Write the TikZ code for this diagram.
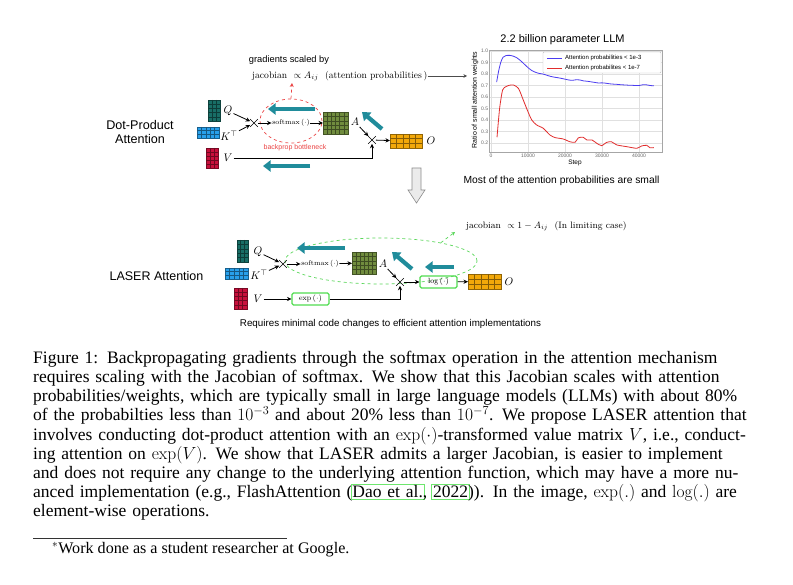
\RequirePackage{fix-cm}
\documentclass[tikz,border=0pt]{standalone}
\usepackage{fontspec}
\newfontfamily\capfont{Liberation Serif}
\newfontfamily\helv{Liberation Sans}
\usetikzlibrary{arrows.meta,shapes.misc,shapes.geometric,calc}

\definecolor{qcol}{RGB}{24,110,102}
\definecolor{kcol}{RGB}{40,160,235}
\definecolor{acol}{RGB}{112,140,62}
\definecolor{vcol}{RGB}{200,16,60}
\definecolor{ocol}{RGB}{242,168,10}
\definecolor{tealarr}{RGB}{32,140,155}
\definecolor{redd}{RGB}{235,70,70}
\definecolor{greend}{RGB}{90,215,90}
\definecolor{boxg}{RGB}{80,220,80}
\definecolor{plotblue}{RGB}{75,60,240}
\definecolor{plotred}{RGB}{225,45,45}
\definecolor{citeg}{RGB}{110,230,110}

\newcommand\fsz[1]{\fontsize{#1}{#1}\selectfont}
\newcommand\matgrid[4]{%
  \pgfmathtruncatemacro\mgc{#2-1}%
  \pgfmathtruncatemacro\mgr{#3-1}%
  \foreach \i in {1,...,\mgc}{\draw[#4!55!black, line width=0.35pt] ($(#1.north west)!\i/#2!(#1.north east)$) -- ($(#1.south west)!\i/#2!(#1.south east)$);}%
  \foreach \j in {1,...,\mgr}{\draw[#4!55!black, line width=0.35pt] ($(#1.north west)!\j/#3!(#1.south west)$) -- ($(#1.north east)!\j/#3!(#1.south east)$);}%
}
\newcommand\cbox[1]{\leavevmode\rlap{\hskip-1.7pt\textcolor{citeg}{\fboxsep=1pt\fboxrule=0.7pt\fbox{\phantom{#1}}}}#1}

\tikzset{
  mat/.style={draw=#1!60!black, fill=#1, line width=0.4pt, inner sep=0pt, outer sep=0pt},
  lbl/.style={inner sep=1pt, font=\fsz{11}},
  crs/.style={cross out, draw, line width=0.6pt, minimum size=7pt, inner sep=0pt},
  blk/.style={-{Stealth[length=4.5pt,width=4.2pt]}, line width=0.8pt},
  tarr/.style={draw=tealarr, line width=4.2pt, -{Triangle[length=7.5pt,width=11pt]}},
  gbox/.style={draw=boxg, line width=1.1pt, rounded corners=1.5pt, minimum width=37pt, minimum height=12pt, inner sep=0pt, font=\fsz{7.5}},
  sml/.style={inner sep=0.5pt, font=\fsz{7}},
  tick/.style={font=\helv\fsz{5}, text=black!60, inner sep=1pt},
  sans/.style={inner sep=0pt, font=\helv\fsz{#1}},
}

\begin{document}
\begin{tikzpicture}[x=1pt,y=-1pt]
\useasboundingbox (0,0) rectangle (793,585);
\fill[white] (0,0) rectangle (793,585);

% ================= upper: dot-product attention =================
\node[ellipse, draw=redd, dashed, line width=0.7pt, minimum width=62pt, minimum height=44pt, inner sep=0pt] (ell1) at (291,121) {};
\coordinate (redtip) at (292,83);
\draw[redd, dashed, line width=0.7pt, -{Stealth[length=4pt,width=4pt]}] (ell1.north) -- (redtip);

\node[sans=9.3] (grad) at (289,60) {gradients scaled by};
\node[inner sep=0pt, anchor=west, font=\fsz{9.6}] (jac1) at (252,76) {jacobian\ \ $\propto A_{ij}$\ \ (attention probabilities\,)};
\coordinate (plt) at (467,76);
\draw[black!70, line width=0.5pt, -{Stealth[length=3.5pt,width=3.5pt]}] (jac1.east) -- (plt);

\node[sans=7, text=redd] (bb) at (295,148) {backprop bottleneck};
\node[sans=12.6, align=center, font=\helv\fontsize{12.6}{14}\selectfont] (dpa) at (140,132) {Dot-Product\\Attention};

\node[mat=qcol, minimum width=12pt, minimum height=21pt] (Q1) at (214,110.5) {};
\node[mat=kcol, minimum width=22pt, minimum height=11pt] (K1) at (208,132.5) {};
\node[mat=vcol, minimum width=12pt, minimum height=20pt] (V1) at (212,158) {};
\node[mat=acol, minimum width=25pt, minimum height=22pt] (A1) at (335.5,123) {};
\node[mat=ocol, minimum width=32pt, minimum height=14pt] (O1) at (406,141) {};
\matgrid{Q1}{3}{5}{qcol}
\matgrid{K1}{5}{3}{kcol}
\matgrid{V1}{3}{5}{vcol}
\matgrid{A1}{6}{5}{acol}
\matgrid{O1}{5}{3}{ocol}

\node[lbl] (Ql1) at (228,111) {$Q$};
\node[lbl] (Kl1) at (229,136) {$K^{\top}$};
\node[lbl] (Vl1) at (228,158) {$V$};
\node[lbl] (Al1) at (355,122) {$A$};
\node[lbl] (Ol1) at (431,141) {$O$};

\node[crs] (c1) at (254,123) {};
\node[sml] (sm1) at (291,123) {$\mathrm{softmax}\,(\cdot)$};
\node[crs] (c2) at (372,140) {};

\draw[blk] (Ql1) -- (c1);
\draw[blk] (Kl1) -- (c1);
\draw[blk] (c1) -- (sm1);
\draw[blk] (sm1) -- (A1);
\draw[blk] (Al1) -- (c2);
\draw[blk] (c2) -- (O1);
\draw[blk] (Vl1) -| (c2);

\draw[tarr] (315,109) -- (268,109);
\draw[tarr] (310,166) -- (263,166);
\draw[tarr] (382,129) -- (362,112);

% hollow down arrow
\draw[black!45, fill=black!8, line width=0.6pt] (412,168) -- (421,168) -- (421,190) -- (425,190) -- (416.5,203) -- (408,190) -- (412,190) -- cycle;

% ================= chart =================
\node[sans=11] (ttl) at (562.5,40) {2.2 billion parameter LLM};
\begin{scope}[shift={(491.1,166)}, x=3.697pt, y=115pt]
  \foreach \v in {0.2,0.3,0.4,0.5,0.6,0.7,0.8,0.9,1.0}
    \draw[black!12, line width=0.5pt] (-0.5,\v) -- (46.4,\v);
  \foreach \s in {0,10,20,30,40}
    \draw[black!12, line width=0.5pt] (\s,0.119) -- (\s,1.009);
  \draw[black!35, line width=0.5pt] (-0.5,0.119) rectangle (46.4,1.009);
  \foreach \v in {1.0,0.9,0.8,0.7,0.6,0.5,0.4,0.3,0.2}
    \node[tick, anchor=east] at (-0.5,\v) {\v};
  \foreach \s/\t in {0/0,10/10000,20/20000,30/30000,40/40000}
    \node[tick, anchor=north] at (\s,0.119) {\t};
  \draw[plotblue, line width=0.8pt, line join=round] plot[smooth, tension=0.4] coordinates {
    (1.5,0.73) (2,0.82) (2.6,0.9) (3.2,0.945) (4,0.96) (5,0.962) (6,0.955) (7,0.94) (8,0.915) (9,0.885) (10,0.855) (11,0.83) (12,0.815) (13,0.805) (14,0.8) (15,0.79) (16,0.78) (17,0.773) (18,0.768) (19,0.762) (20,0.755) (21,0.748) (22,0.745) (23,0.75) (24,0.748) (25,0.74) (26,0.737) (27,0.732) (28,0.727) (29,0.722) (30,0.723) (31,0.72) (32,0.715) (33,0.712) (34,0.71) (35,0.707) (36,0.705) (37,0.703) (38,0.702) (39,0.7) (40,0.7) (41,0.706) (42,0.706) (43,0.7) (44,0.697)};
  \draw[plotred, line width=0.8pt, line join=round] plot[smooth, tension=0.4] coordinates {
    (1.6,0.25) (2.3,0.5) (3.1,0.66) (4.0,0.69) (4.7,0.70) (6,0.705) (7.4,0.675) (8.7,0.574) (10,0.47) (11,0.4) (12.3,0.357) (14.1,0.328) (15.9,0.27) (17.3,0.247) (19.5,0.235) (21.3,0.211) (22.7,0.206) (23.6,0.245) (24.9,0.25) (25.9,0.226) (27.3,0.226) (28.6,0.197) (29.9,0.177) (31.3,0.206) (32.6,0.21) (34,0.183) (36.7,0.168) (39.4,0.154) (40.7,0.174) (42.1,0.18) (43,0.158) (44,0.16)};
\end{scope}
\node[sans=7, rotate=90] (ylab) at (475,100) {Ratio of small attention weights};
\node[sans=6.5] (xlab) at (575,163) {Step};
\node[draw=black!25, fill=white, rounded corners=1pt, minimum width=118pt, minimum height=21pt, inner sep=0pt] (leg) at (602,62.5) {};
\coordinate (lb1) at (547,58); \coordinate (lb2) at (562,58);
\coordinate (lr1) at (547,68); \coordinate (lr2) at (562,68);
\draw[plotblue, line width=0.8pt] (lb1) -- (lb2);
\draw[plotred, line width=0.8pt] (lr1) -- (lr2);
\node[sans=6, anchor=west] (legb) at (565,58) {Attention probabilities < 1e-3};
\node[sans=6, anchor=west] (legr) at (565,68) {Attention probabilites < 1e-7};
\node[sans=10.3] (most) at (561.5,181) {Most of the attention probabilities are small};

% ================= lower: LASER attention =================
\node[ellipse, draw=greend, dashed, line width=0.7pt, minimum width=192pt, minimum height=46pt, inner sep=0pt] (ell2) at (381,261) {};
\node[inner sep=0pt, anchor=west, font=\fsz{9.3}] (jac2) at (466,226) {jacobian\ \ $\propto 1-A_{ij}$\ \ (In limiting case)};
\coordinate (jacend) at (455,232);
\draw[greend, dashed, line width=0.7pt, -{Stealth[length=3.5pt,width=3.5pt]}] (ell2.17) -- (jacend);

\node[sans=12.5] (laser) at (156.5,276) {LASER Attention};

\node[mat=qcol, minimum width=11pt, minimum height=22pt] (Q2) at (242.5,251) {};
\node[mat=kcol, minimum width=23pt, minimum height=11pt] (K2) at (236.5,273.5) {};
\node[mat=vcol, minimum width=13pt, minimum height=21pt] (V2) at (240.5,298.5) {};
\node[mat=acol, minimum width=24pt, minimum height=22pt] (A2) at (364,263) {};
\node[mat=ocol, minimum width=33pt, minimum height=15pt] (O2) at (484.5,281.5) {};
\matgrid{Q2}{3}{5}{qcol}
\matgrid{K2}{5}{3}{kcol}
\matgrid{V2}{3}{5}{vcol}
\matgrid{A2}{6}{5}{acol}
\matgrid{O2}{5}{3}{ocol}

\node[lbl] (Ql2) at (258,252) {$Q$};
\node[lbl] (Kl2) at (259,275) {$K^{\top}$};
\node[lbl] (Vl2) at (258,299) {$V$};
\node[lbl] (Al2) at (383,264) {$A$};
\node[lbl] (Ol2) at (509,282) {$O$};

\node[crs] (c3) at (283,264) {};
\node[sml] (sm2) at (320,264) {$\mathrm{softmax}\,(\cdot)$};
\node[crs] (c4) at (400,282) {};
\node[gbox] (logb) at (438.5,282) {$\log\,(\cdot)$};
\node[gbox] (expb) at (310.5,299) {$\exp\,(\cdot)$};

\draw[blk] (Ql2) -- (c3);
\draw[blk] (Kl2) -- (c3);
\draw[blk] (c3) -- (sm2);
\draw[blk] (sm2) -- (A2);
\draw[blk] (Al2) -- (c4);
\draw[blk] (c4) -- (logb);
\draw[blk] (logb) -- (O2);
\draw[blk] (Vl2) -- (expb);
\draw[blk] (expb) -| (c4);

\draw[tarr] (345,248) -- (297,248);
\draw[tarr] (454,267) -- (425,267);
\draw[tarr] (412,269) -- (392,252);

\node[sans=9.8] (req) at (390.5,324) {Requires minimal code changes to efficient attention implementations};

% ================= caption =================
\node[anchor=base west, inner sep=0pt, text width=710pt, align=left, font=\capfont\fontsize{17.5}{19.2}\selectfont] (cap) at (33,363.3) {%
\hbox to 710pt{Figure 1: Backpropagating gradients through the softmax operation in the attention mechanism}
\hbox to 710pt{requires scaling with the Jacobian of softmax. We show that this Jacobian scales with attention}
\hbox to 710pt{probabilities/weights, which are typically small in large language models (LLMs) with about 80\%}
\hbox to 710pt{of the probabilties less than $10^{-3}$ and about 20\% less than $10^{-7}$. We propose LASER attention that}
\hbox to 710pt{involves conducting dot-product attention with an $\exp(\cdot)$-transformed value matrix $V$, i.e., conduct-}
\hbox to 710pt{ing attention on $\exp(V)$. We show that LASER admits a larger Jacobian, is easier to implement}
\hbox to 710pt{and does not require any change to the underlying attention function, which may have a more nu-}
\hbox to 710pt{anced implementation (e.g., FlashAttention (\cbox{Dao et al.}, \cbox{2022})). In the image, $\exp(.)$ and $\log(.)$ are}
\hbox{element-wise operations.}};

\coordinate (fr1) at (33,538); \coordinate (fr2) at (287,538);
\draw[black!80, line width=0.6pt] (fr1) -- (fr2);
\node[anchor=base west, inner sep=0pt, font=\capfont\fsz{16.1}] (foot) at (52,553) {$^{*}$Work done as a student researcher at Google.};
\end{tikzpicture}
\end{document}
